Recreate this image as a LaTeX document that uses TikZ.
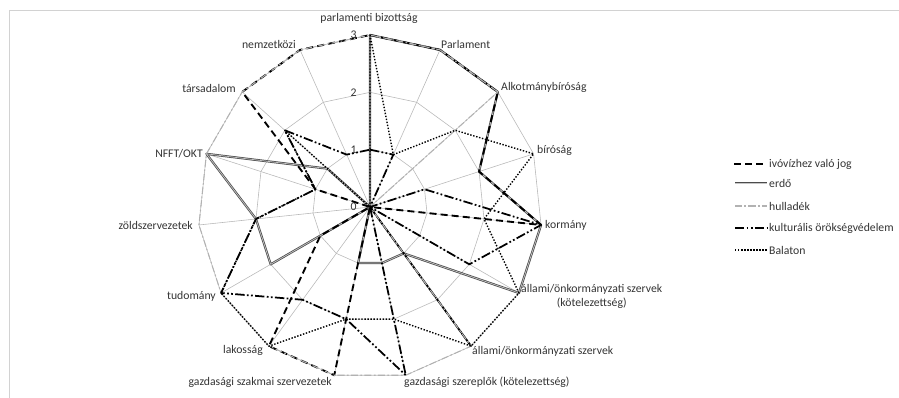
\documentclass[tikz,border=0pt]{standalone}
\usepackage{fontspec}
\setmainfont{Carlito}

\def\rv{57.33}
% one closed polygon of the radar chart: style, first value, remaining values
\newcommand{\radarline}[3]{%
\draw[#1] (90:{\rv*#2}) \foreach \v [count=\i] in {#3} { -- ({90-24*\i}:{\rv*\v}) } -- cycle;}

\tikzset{
  gridline/.style={gray!55,line width=0.5pt},
  ivoviz/.style={black,line width=1.6pt,dash pattern=on 6pt off 3.5pt,line join=round},
  erdo/.style={draw=gray!60!black,double=gray!45,double distance=0.6pt,line width=0.65pt,line join=round},
  hulladek/.style={gray!60,line width=0.9pt,dash pattern=on 6pt off 2pt on 1.5pt off 2pt,line join=round},
  kulturalis/.style={black,line width=1.5pt,dash pattern=on 8pt off 2pt on 1.5pt off 2pt on 1.5pt off 2pt,line join=round},
  balaton/.style={black,line width=1.2pt,dash pattern=on 1.2pt off 1.4pt,line join=round},
  axislabel/.style={text=black!80,inner sep=0pt},
  vallabel/.style={text=black!80,inner sep=1pt,anchor=east}
}

\begin{document}
\begin{tikzpicture}[x=0.03cm,y=0.03cm]
\useasboundingbox (0,0) rectangle (899,398);
\draw[gray!35] (9,0) -- (9,388) -- (899,388);

\begin{scope}[shift={(370,191)}]
% grid
\foreach \k in {1,2,3}
  \draw[gridline] (90:{\rv*\k}) \foreach \i in {1,...,14} { -- ({90-24*\i}:{\rv*\k}) } -- cycle;
\foreach \i in {0,...,14}
  \draw[gridline] (0,0) -- ({90-24*\i}:{3*\rv});

% series
\radarline{erdo}{3}{3,3,2,3,3,1,1,1,0,2,2,3,1,0}
\radarline{ivoviz}{3}{3,3,2,3,0,3,0,3,3,1,0,1,3,3}
\radarline{hulladek}{3}{3,3,0,0,0,3,3,3,3,3,3,3,3,3}
\radarline{kulturalis}{1}{1,0,1,3,2,0,3,2,2,3,2,1,2,1}
\radarline{balaton}{3}{1,2,3,2,3,3,2,2,3,3,2,1,2,0}

\foreach \k in {0,...,3}
  \node[vallabel] (val\k) at (-12,{\rv*\k}) {\k};
\end{scope}

% axis labels
\node[axislabel] (pb) at (369,380) {parlamenti bizottság};
\node[axislabel,anchor=west] (parl) at (441,354) {Parlament};
\node[axislabel,anchor=west] (ab) at (501,311) {Alkotmánybíróság};
\node[axislabel,anchor=west] (bir) at (537,248) {bíróság};
\node[axislabel,anchor=west] (korm) at (545,173) {kormány};
\node[axislabel,anchor=west,align=center] (allk) at (521,102) {állami/önkormányzati szervek\\(kötelezettség)};
\node[axislabel,anchor=west] (all) at (472,47) {állami/önkormányzati szervek};
\node[axislabel,anchor=west] (gszk) at (404,16) {gazdasági szereplők (kötelezettség)};
\node[axislabel,anchor=east] (gszm) at (332,16) {gazdasági szakmai szervezetek};
\node[axislabel,anchor=east] (lak) at (263,48) {lakosság};
\node[axislabel,anchor=east] (tud) at (216,102) {tudomány};
\node[axislabel,anchor=east] (zold) at (193,173) {zöldszervezetek};
\node[axislabel,anchor=east] (nfft) at (203,244) {NFFT/OKT};
\node[axislabel,anchor=east] (tars) at (236,310) {társadalom};
\node[axislabel,anchor=east] (nemz) at (296,354) {nemzetközi};

% legend
\draw[ivoviz] (734,234) -- (767,234);
\node[axislabel,anchor=west] (legivo) at (769,234) {ivóvízhez való jog};
\draw[erdo] (735,215) -- (767,215);
\node[axislabel,anchor=west] (legerdo) at (769,215) {erdő};
\draw[hulladek] (735,192) -- (767,192);
\node[axislabel,anchor=west] (leghull) at (769,192) {hulladék};
\draw[kulturalis] (735,170) -- (767,170);
\node[axislabel,anchor=west] (legkult) at (769,170) {kulturális örökségvédelem};
\draw[balaton] (735,148) -- (767,148);
\node[axislabel,anchor=west] (legbal) at (769,148) {Balaton};
\end{tikzpicture}
\end{document}
